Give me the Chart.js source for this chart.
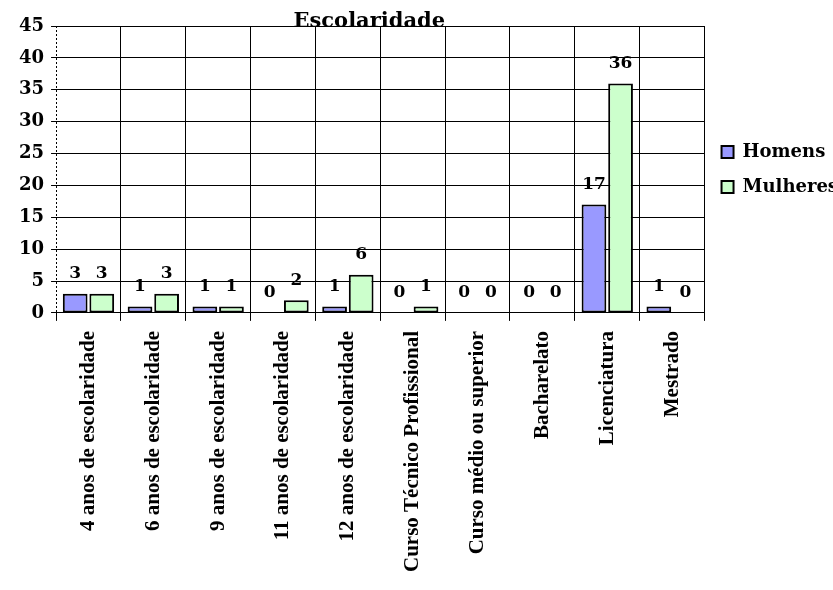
<!DOCTYPE html>
<html>
<head>
<meta charset="utf-8">
<title>Escolaridade</title>
<script src="https://cdn.jsdelivr.net/npm/chart.js@4"></script>
<style>
  body { margin: 0; background: #fff; overflow: hidden; }
</style>
</head>
<body>
<canvas id="escolaridadeChart" width="833" height="590"></canvas>
<script>
const categorias = ['4 anos de escolaridade', '6 anos de escolaridade', '9 anos de escolaridade',
  '11 anos de escolaridade', '12 anos de escolaridade', 'Curso Técnico Profissional',
  'Curso médio ou superior', 'Bacharelato', 'Licenciatura', 'Mestrado'];
const homens = [3, 1, 1, 0, 1, 0, 0, 0, 17, 1];
const mulheres = [3, 3, 1, 2, 6, 1, 0, 0, 36, 0];
const yMin = 0, yMax = 45, yStep = 5;

const serif = 'DejaVu Serif';

// value above each bar
const valueLabels = {
  id: 'valueLabels',
  afterDatasetsDraw(chart) {
    const ctx = chart.ctx;
    ctx.save();
    ctx.font = 'bold 17px "' + serif + '"';
    ctx.fillStyle = '#000';
    ctx.textAlign = 'center';
    ctx.textBaseline = 'middle';
    chart.data.datasets.forEach((ds, i) => {
      chart.getDatasetMeta(i).data.forEach((bar, j) => {
        ctx.fillText(String(ds.data[j]), bar.x, bar.y - 20);
      });
    });
    ctx.restore();
  }
};

// dashed value axis line + title sitting on the top grid line
const axisAndTitle = {
  id: 'axisAndTitle',
  beforeDatasetsDraw(chart) {
    const ctx = chart.ctx;
    const area = chart.chartArea;
    ctx.save();
    ctx.strokeStyle = '#000';
    ctx.lineWidth = 1;
    ctx.setLineDash([2, 2]);
    ctx.beginPath();
    ctx.moveTo(Math.round(area.left) + 0.5, area.top);
    ctx.lineTo(Math.round(area.left) + 0.5, area.bottom);
    ctx.stroke();
    ctx.restore();
  },
  afterDraw(chart) {
    const ctx = chart.ctx;
    const area = chart.chartArea;
    ctx.save();
    ctx.font = 'bold 21px "' + serif + '"';
    ctx.fillStyle = '#000';
    ctx.textAlign = 'center';
    ctx.textBaseline = 'alphabetic';
    ctx.fillText('Escolaridade', (area.left + area.right) / 2 - 11, area.top + 1);
    ctx.restore();
  }
};

const ctx = document.getElementById('escolaridadeChart').getContext('2d');
const escolaridadeChart = new Chart(ctx, {
  type: 'bar',
  data: {
    labels: categorias,
    datasets: [{
      label: 'Homens',
      data: homens,
      backgroundColor: '#9999FF',
      borderColor: '#000',
      borderWidth: 2,
      borderSkipped: false
    }, {
      label: 'Mulheres',
      data: mulheres,
      backgroundColor: '#CCFFCC',
      borderColor: '#000',
      borderWidth: 2,
      borderSkipped: false
    }]
  },
  options: {
    responsive: false,
    animation: false,
    categoryPercentage: 0.82,
    barPercentage: 0.93,
    layout: {
      padding: { top: 26, left: 12, right: -15, bottom: 8 }
    },
    plugins: {
      title: { display: false },
      tooltip: { enabled: false },
      legend: {
        position: 'right',
        fullSize: false,
        labels: {
          color: '#000',
          boxWidth: 12,
          boxHeight: 12,
          padding: 17,
          font: { family: serif, size: 18, weight: 'bold' }
        }
      }
    },
    scales: {
      x: {
        grid: {
          color: c => c.index === 0 ? 'rgba(0,0,0,0)' : '#000',
          tickColor: '#000',
          tickLength: 8,
          lineWidth: 1
        },
        border: { color: '#000', width: 1 },
        ticks: {
          color: '#000',
          minRotation: 90,
          maxRotation: 90,
          padding: 10,
          font: { family: 'Liberation Serif', size: 21, weight: 'bold' }
        }
      },
      y: {
        min: yMin,
        max: yMax,
        grid: {
          color: '#000',
          tickColor: '#000',
          tickLength: 5,
          lineWidth: 1
        },
        border: { display: false },
        ticks: {
          stepSize: yStep,
          color: '#000',
          padding: 7,
          font: { family: serif, size: 18, weight: 'bold' }
        }
      }
    }
  },
  plugins: [valueLabels, axisAndTitle]
});
</script>
</body>
</html>
